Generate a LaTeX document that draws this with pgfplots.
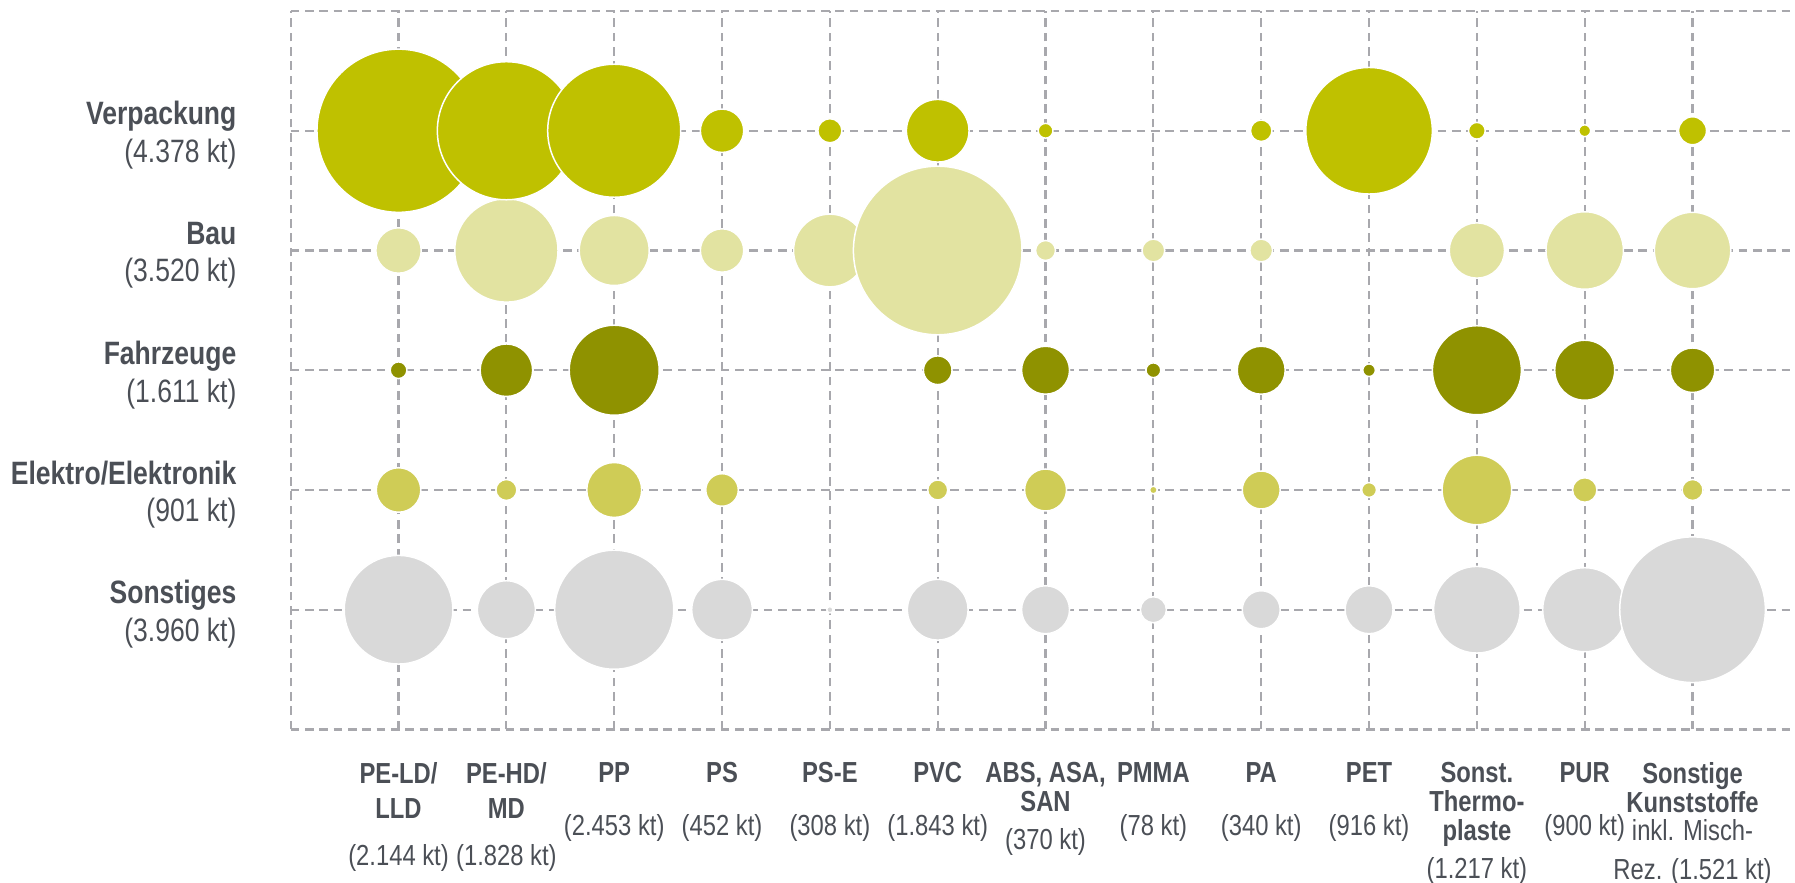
\documentclass[border=0pt]{standalone}
\usepackage{fontspec}
\setmainfont{Liberation Sans}[FakeStretch=0.82]
\usepackage{pgfplots}
\usepackage{pgfplotstable}
\pgfplotsset{compat=1.18}

\definecolor{cVer}{HTML}{BFC100}
\definecolor{cBau}{HTML}{E2E3A1}
\definecolor{cFahr}{HTML}{8F9200}
\definecolor{cElek}{HTML}{CFCC56}
\definecolor{cSon}{HTML}{D9D9D9}
\definecolor{txt}{HTML}{4B4F56}
\definecolor{gridc}{HTML}{A8A8AD}

% x = Kunststoff (0 = PE-LD/LLD ... 12 = Sonstige), y = Branche, v = kt
\pgfplotstableread{
x y v
0 5 1330
1 5 952
2 5 884
3 5 94
4 5 29
5 5 196
6 5 11
8 5 23
9 5 800
10 5 14
11 5 7
12 5 39
}\verpackung
\pgfplotstableread{
x y v
0 4 103
1 4 533
2 4 245
3 4 94
4 4 264
5 4 1420
6 4 20
7 4 26
8 4 26
10 4 153
11 4 300
12 4 292
}\bau
\pgfplotstableread{
x y v
0 3 14
1 3 138
2 3 405
5 3 41
6 3 115
7 3 11
8 3 115
9 3 8
10 3 396
11 3 180
12 3 99
}\fahrzeuge
\pgfplotstableread{
x y v
0 2 99
1 2 22
2 2 151
3 2 53
5 2 20
6 2 88
7 2 3
8 2 72
9 2 11
10 2 242
11 2 30
12 2 22
}\elektro
\pgfplotstableread{
x y v
0 1 590
1 1 168
2 1 708
3 1 184
4 1 2
5 1 184
6 1 115
7 1 34
8 1 72
9 1 115
10 1 375
11 1 353
12 1 1060
}\sonstiges

% bubble area ~ kt
\pgfplotsset{bubble/.style={scatter, only marks, mark=*,
  visualization depends on={\thisrow{v} \as \val},
  scatter/@pre marker code/.code={%
    \pgfmathsetmacro\rad{0.671*sqrt(\val)}%
    \scope[mark size=\rad pt, draw=white, line width=0.45pt, fill=#1]},
  scatter/@post marker code/.code={\endscope}}}

\begin{document}
\begin{tikzpicture}
\begin{axis}[
  scale only axis, width=451.2pt, height=215.5pt,
  xmin=-1, xmax=12.95, ymin=0, ymax=6,
  axis line style={draw=none},
  major tick length=0pt,
  tick style={draw=none},
  xtick={-1,0,...,12}, ytick={0,...,6},
  grid=major,
  grid style={draw=gridc, line width=0.65pt, dash pattern=on 2.6pt off 1.7pt},
  clip=false,
  xticklabels={{},
    {\textbf{PE-LD/}\\[2pt]\textbf{LLD}\\[5.5pt](2.144 kt)},
    {\textbf{PE-HD/}\\[2pt]\textbf{MD}\\[5.5pt](1.828 kt)},
    {\textbf{PP}\\[7.2pt](2.453 kt)},
    {\textbf{PS}\\[7.2pt](452 kt)},
    {\textbf{PS-E}\\[7.2pt](308 kt)},
    {\textbf{PVC}\\[7.2pt](1.843 kt)},
    {\textbf{ABS, ASA,}\\\textbf{SAN}\\[2.7pt](370 kt)},
    {\textbf{PMMA}\\[7.2pt](78 kt)},
    {\textbf{PA}\\[7.2pt](340 kt)},
    {\textbf{PET}\\[7.2pt](916 kt)},
    {\textbf{Sonst.}\\\textbf{Thermo-}\\\textbf{plaste}\\[3pt](1.217 kt)},
    {\textbf{PUR}\\[7.2pt](900 kt)},
    {\textbf{Sonstige}\\\textbf{Kunststoffe}\\inkl. Misch-\\[3pt]Rez. (1.521 kt)}},
  yticklabels={{},
    {\textbf{Sonstiges}\\(3.960 kt)},
    {\textbf{Elektro/Elektronik}\\(901 kt)},
    {\textbf{Fahrzeuge}\\(1.611 kt)},
    {\textbf{Bau}\\(3.520 kt)},
    {\textbf{Verpackung}\\(4.378 kt)},
    {}},
  xticklabel style={align=center, anchor=north, inner sep=0pt, yshift=-9.7pt,
    font=\fontsize{8.7}{8.6}\selectfont, text=txt},
  yticklabel style={align=right, anchor=east, inner sep=0pt, xshift=-16.1pt, yshift=-1.4pt,
    font=\fontsize{9.7}{11.3}\selectfont, text=txt},
]
\addplot[bubble=cSon] table[x=x, y=y] {\sonstiges};
\addplot[bubble=cElek] table[x=x, y=y] {\elektro};
\addplot[bubble=cFahr] table[x=x, y=y] {\fahrzeuge};
\addplot[bubble=cBau] table[x=x, y=y] {\bau};
\addplot[bubble=cVer] table[x=x, y=y] {\verpackung};
\end{axis}
\pgfresetboundingbox
\path ([xshift=-87.2pt, yshift=3.3pt]current axis.north west) rectangle ([yshift=-46pt]current axis.south east);
\end{tikzpicture}
\end{document}
